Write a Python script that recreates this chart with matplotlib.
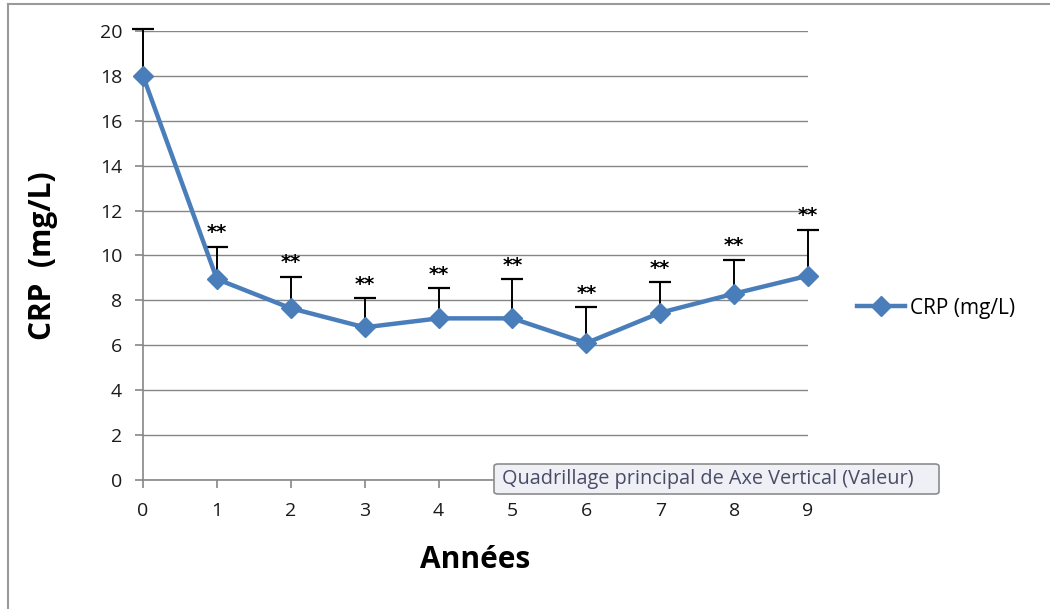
import numpy as np
import matplotlib.pyplot as plt
from matplotlib.patches import FancyBboxPatch
from matplotlib.lines import Line2D

years = [0, 1, 2, 3, 4, 5, 6, 7, 8, 9]
crp = [18.0, 8.95, 7.65, 6.8, 7.2, 7.2, 6.1, 7.45, 8.3, 9.1]
err_up = [2.1, 1.45, 1.4, 1.3, 1.35, 1.75, 1.6, 1.35, 1.5, 2.05]
stars = ['', '**', '**', '**', '**', '**', '**', '**', '**', '**']
yticks = [0, 2, 4, 6, 8, 10, 12, 14, 16, 18, 20]

plt.rcParams['font.family'] = ['Open Sans', 'DejaVu Sans']
blue = '#4a7ebb'
gray = '#868686'

fig = plt.figure(figsize=(10.5, 6.09), dpi=100)
ax = fig.add_axes([143/1050, 1-480/609, 665/1050, 449/609])

tops = np.array(crp) + np.array(err_up)
# upper error bars only
ax.vlines(years, crp, tops, color='black', lw=1.4, zorder=3, clip_on=False)
ax.plot(years, tops, ls='none', marker='_', ms=16.5, mew=1.6, color='black',
        zorder=3, clip_on=False)
ax.plot(years, crp, color=blue, lw=3.2, marker='D', ms=10, zorder=4, clip_on=False)
for x, t, s in zip(years, tops, stars):
    if s:
        ax.text(x, t + 0.2, s, ha='center', va='bottom', fontsize=14,
                fontweight='bold', color='black', family='DejaVu Sans')

ax.set_xlim(0, 9)
ax.set_ylim(0, 20)
ax.set_yticks(yticks)
ax.set_xticks(years)
ax.yaxis.grid(True, color=gray, lw=1)
ax.set_axisbelow(True)
for sp in ['top', 'right']:
    ax.spines[sp].set_visible(False)
for sp in ['left', 'bottom']:
    ax.spines[sp].set_color(gray)
    ax.spines[sp].set_linewidth(1.2)
ax.tick_params(axis='both', colors=gray, labelcolor='#1a1a1a', labelsize=14,
               length=6, width=1.2)
ax.tick_params(axis='y', pad=9)
ax.tick_params(axis='x', pad=10)

ax.set_ylabel('CRP  (mg/L)', fontsize=21.5, fontweight='bold', labelpad=30)
ax.set_xlabel('Années', fontsize=21.5, fontweight='bold', labelpad=18)

# legend
h = Line2D([], [], color=blue, lw=3.2, marker='D', ms=10)
fig.legend([h], ['CRP (mg/L)'], loc='center left', bbox_to_anchor=(838/1050, 1-308/609),
           frameon=False, fontsize=15, handlelength=2.3, handletextpad=0.25)

# tooltip box
box = FancyBboxPatch((494/1050, 1-494/609), 445/1050, 30/609,
                     boxstyle='round,pad=0,rounding_size=0.004',
                     transform=fig.transFigure, facecolor='#eef0f6',
                     edgecolor='#8c8c8c', lw=1.2, zorder=10)
fig.patches.append(box)
fig.text(502/1050, 1-479/609, 'Quadrillage principal de Axe Vertical (Valeur)',
         fontsize=14.3, color='#4b4b66', va='center', ha='left', zorder=11)

# outer chart frame
fig.add_artist(Line2D([8/1050, 8/1050], [0, 1-4/609], transform=fig.transFigure,
                      color='#9a9a9a', lw=1.5))
fig.add_artist(Line2D([8/1050, 1], [1-4/609, 1-4/609], transform=fig.transFigure,
                      color='#9a9a9a', lw=1.5))

fig.savefig('out.png', dpi=100)
